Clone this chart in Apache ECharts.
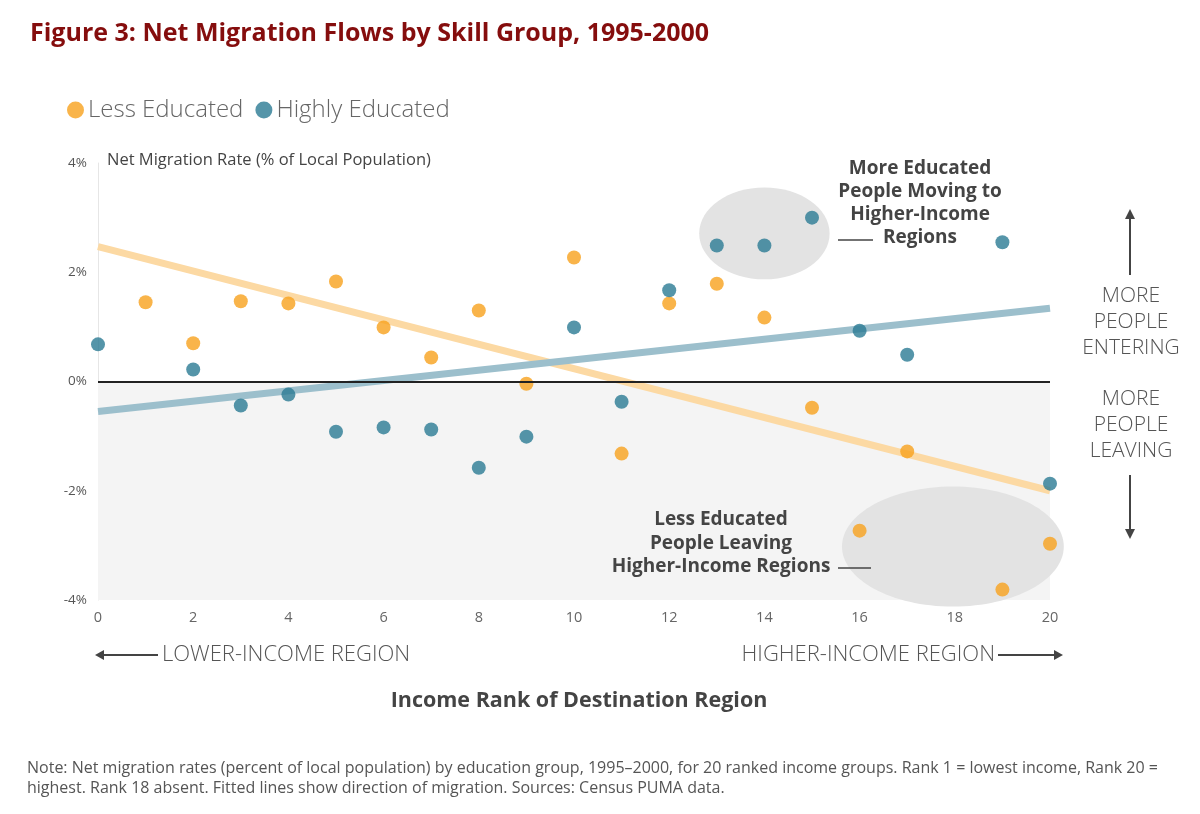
<!DOCTYPE html>
<html>
<head>
<meta charset="utf-8">
<style>
  html, body { margin: 0; padding: 0; background: #fff; }
  #chart { width: 1200px; height: 814px; }
</style>
<script src="https://cdn.jsdelivr.net/npm/echarts@6/dist/echarts.min.js"></script>
</head>
<body>
<div id="chart"></div>
<script>
// income rank of destination region (rank 18 absent)
var lessRanks  = [1, 2, 3, 4, 5, 6, 7, 8, 9, 10, 11, 12, 13, 14, 15, 16, 17, 19, 20];
var lessRates  = [1.45, 0.70, 1.47, 1.43, 1.83, 0.99, 0.44, 1.30, -0.04, 2.27, -1.32, 1.43, 1.79, 1.17, -0.48, -2.73, -1.28, -3.81, -2.97];
var highRanks  = [0, 2, 3, 4, 5, 6, 7, 8, 9, 10, 11, 12, 13, 14, 15, 16, 17, 19, 20];
var highRates  = [0.68, 0.22, -0.44, -0.24, -0.92, -0.84, -0.88, -1.58, -1.01, 0.99, -0.37, 1.67, 2.49, 2.49, 3.00, 0.93, 0.49, 2.55, -1.87];

// fitted lines at rank 0 and rank 20
var fitRanks = [0, 20];
var lessFit  = [2.47, -2.00];
var highFit  = [-0.55, 1.34];

// annotation ellipses in data units: [centre rank, centre rate, half width, half height]
var ellipses = [[14.0, 2.71, 1.37, 0.84], [17.96, -3.02, 2.33, 1.10]];

var yTicks = [-4, -2, 0, 2, 4];

function pairs(xs, ys) {
  return xs.map(function (x, i) { return [x, ys[i]]; });
}

var FONT = 'Open Sans';
var chart = echarts.init(document.getElementById('chart'));

// text and arrows drawn on top of the plot
var notes = [
  {
    type: 'text', left: 107, top: 152,
    style: { text: 'Net Migration Rate (% of Local Population)', fill: '#444', fontSize: 16.5, fontFamily: FONT }
  },
  // upper annotation
  {
    type: 'text', x: 920, y: 157,
    style: {
      text: 'More Educated\nPeople Moving to\nHigher-Income\nRegions',
      fill: '#444', fontSize: 19, fontWeight: 'bold', fontFamily: FONT,
      align: 'center', lineHeight: 23
    }
  },
  { type: 'line', shape: { x1: 838, y1: 240, x2: 873, y2: 240 }, style: { stroke: '#444', lineWidth: 1.5 } },
  // lower annotation
  {
    type: 'text', x: 721, y: 508,
    style: {
      text: 'Less Educated\nPeople Leaving\nHigher-Income Regions',
      fill: '#444', fontSize: 19, fontWeight: 'bold', fontFamily: FONT,
      align: 'center', lineHeight: 23.5
    }
  },
  { type: 'line', shape: { x1: 838, y1: 568, x2: 871, y2: 568 }, style: { stroke: '#444', lineWidth: 1.5 } },
  // right side labels + arrows
  {
    type: 'text', x: 1131, y: 283,
    style: { text: 'MORE\nPEOPLE\nENTERING', fill: '#555', fontSize: 21, fontWeight: 300, fontFamily: FONT, align: 'center', lineHeight: 26 }
  },
  {
    type: 'text', x: 1131, y: 386,
    style: { text: 'MORE\nPEOPLE\nLEAVING', fill: '#555', fontSize: 21, fontWeight: 300, fontFamily: FONT, align: 'center', lineHeight: 26 }
  },
  { type: 'line', shape: { x1: 1130, y1: 275, x2: 1130, y2: 216 }, style: { stroke: '#444', lineWidth: 2 } },
  { type: 'polygon', shape: { points: [[1125, 219], [1135, 219], [1130, 209]] }, style: { fill: '#444' } },
  { type: 'line', shape: { x1: 1130, y1: 475, x2: 1130, y2: 532 }, style: { stroke: '#444', lineWidth: 2 } },
  { type: 'polygon', shape: { points: [[1125, 529], [1135, 529], [1130, 539]] }, style: { fill: '#444' } },
  // bottom direction labels
  { type: 'line', shape: { x1: 100, y1: 655, x2: 158, y2: 655 }, style: { stroke: '#444', lineWidth: 2 } },
  { type: 'polygon', shape: { points: [[95, 655], [104, 650], [104, 660]] }, style: { fill: '#444' } },
  {
    type: 'text', x: 162, y: 655,
    style: { text: 'LOWER-INCOME REGION', fill: '#555', fontSize: 22, fontWeight: 300, fontFamily: FONT, verticalAlign: 'middle' }
  },
  {
    type: 'text', x: 995, y: 655,
    style: { text: 'HIGHER-INCOME REGION', fill: '#555', fontSize: 22, fontWeight: 300, fontFamily: FONT, align: 'right', verticalAlign: 'middle' }
  },
  { type: 'line', shape: { x1: 998, y1: 655, x2: 1056, y2: 655 }, style: { stroke: '#444', lineWidth: 2 } },
  { type: 'polygon', shape: { points: [[1063, 655], [1054, 650], [1054, 660]] }, style: { fill: '#444' } },
  // x axis title
  {
    type: 'text', x: 579, y: 701,
    style: { text: 'Income Rank of Destination Region', fill: '#444', fontSize: 21.5, fontWeight: 'bold', fontFamily: FONT, align: 'center', verticalAlign: 'middle' }
  },
  // note
  {
    type: 'text', left: 27, top: 758,
    style: {
      text: 'Note: Net migration rates (percent of local population) by education group, 1995\u20132000, for 20 ranked income groups. Rank 1 = lowest income, Rank 20 =\nhighest. Rank 18 absent. Fitted lines show direction of migration. Sources: Census PUMA data.',
      fill: '#555', fontSize: 16, fontFamily: FONT, lineHeight: 20
    }
  }
].map(function (el) { el.z = 100; return el; });

var option = {
  backgroundColor: '#fff',
  textStyle: { fontFamily: FONT },
  animation: false,
  title: {
    text: 'Figure 3: Net Migration Flows by Skill Group, 1995-2000',
    left: 25,
    top: 16,
    textStyle: { color: '#850d0d', fontSize: 25, fontWeight: 'bold', fontFamily: FONT }
  },
  legend: {
    left: 62,
    top: 93,
    itemWidth: 17,
    itemHeight: 17,
    itemGap: 12,
    icon: 'circle',
    data: ['Less Educated', 'Highly Educated'],
    textStyle: { color: '#666', fontSize: 24, fontWeight: 300, fontFamily: FONT, padding: [0, 0, 0, -1] }
  },
  grid: { left: 98, right: 150, top: 163, bottom: 214 },
  xAxis: {
    type: 'value',
    min: 0,
    max: 20,
    interval: 2,
    axisLine: { show: false },
    axisTick: { show: false },
    splitLine: { show: false },
    axisLabel: { color: '#666', fontSize: 14.5, margin: 10 }
  },
  yAxis: {
    type: 'value',
    min: yTicks[0],
    max: yTicks[yTicks.length - 1],
    interval: 2,
    axisLine: { show: true, lineStyle: { color: '#e6e6e6', width: 1 } },
    axisTick: { show: false },
    splitLine: { show: false },
    axisLabel: { color: '#555', fontSize: 13.5, margin: 11, formatter: '{value}%' }
  },
  series: [
    {
      name: 'ellipses',
      type: 'custom',
      clip: false,
      z: 1,
      silent: true,
      data: ellipses,
      renderItem: function (params, api) {
        var c = api.coord([api.value(0), api.value(1)]);
        var s = api.size([api.value(2), api.value(3)]);
        return {
          type: 'ellipse',
          shape: { cx: c[0], cy: c[1], rx: s[0], ry: s[1] },
          style: { fill: '#e3e3e3' }
        };
      }
    },
    {
      name: 'zero',
      type: 'line',
      data: [],
      z: 0,
      markArea: {
        silent: true,
        itemStyle: { color: '#f4f4f4' },
        data: [[{ xAxis: 0, yAxis: 0 }, { xAxis: 20, yAxis: -4 }]]
      },
      markLine: {
        silent: true,
        symbol: 'none',
        label: { show: false },
        lineStyle: { color: '#222', width: 2, type: 'solid' },
        data: [{ yAxis: 0 }]
      }
    },
    {
      name: 'Less Educated fit',
      type: 'line',
      z: 2,
      symbol: 'none',
      data: pairs(fitRanks, lessFit),
      lineStyle: { color: '#fcd9a3', width: 7 }
    },
    {
      name: 'Highly Educated fit',
      type: 'line',
      z: 2,
      symbol: 'none',
      data: pairs(fitRanks, highFit),
      lineStyle: { color: '#9cbfcc', width: 7 }
    },
    {
      name: 'Less Educated',
      type: 'scatter',
      z: 3,
      symbolSize: 14,
      itemStyle: { color: '#f8a11d' },
      data: pairs(lessRanks, lessRates)
    },
    {
      name: 'Highly Educated',
      type: 'scatter',
      z: 3,
      symbolSize: 14,
      itemStyle: { color: '#2b7a93' },
      data: pairs(highRanks, highRates)
    }
  ],
  graphic: notes
};

chart.setOption(option);
</script>
</body>
</html>
